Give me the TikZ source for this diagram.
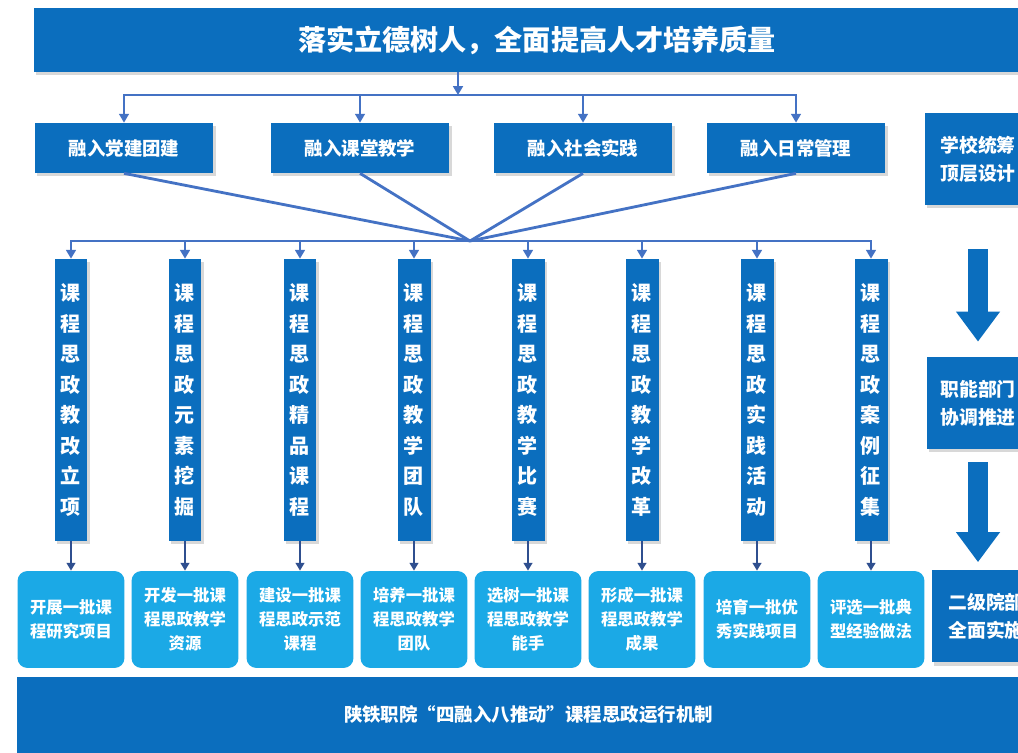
\documentclass[tikz,border=0pt]{standalone}
\usepackage{fontspec}
\setmainfont{Noto Sans CJK SC}
\usetikzlibrary{arrows.meta,shadows}
\definecolor{mainblue}{HTML}{0B6EBE}
\definecolor{skyblue}{HTML}{1BA9E6}
\definecolor{linkblue}{HTML}{4472C4}
\definecolor{navyline}{HTML}{2F4F8F}
\begin{document}
\begin{tikzpicture}[x=0.02cm,y=-0.02cm,
    every node/.style={text=white,font=\bfseries,inner sep=0pt,align=center},
    bluebox/.style={fill=mainblue,drop shadow={opacity=0.3,shadow xshift=1.2pt,shadow yshift=-1.8pt}},
    resbox/.style={fill=skyblue,rounded corners=0.2cm,minimum width=2.14cm,minimum height=1.94cm,font=\bfseries\fontsize{9.3}{13.6}\selectfont},
    link/.style={draw=linkblue,line width=1.6pt},
    linkarrow/.style={link,-{Triangle[width=5.5pt,length=5pt]}},
    downarrow/.style={draw=navyline,line width=1.6pt,-{Triangle[width=5pt,length=4.5pt]}},
    bigarrow/.style={draw=mainblue,line width=0.4cm,-{Triangle[width=0.84cm,length=0.6cm]}}]
    \useasboundingbox (0,0) rectangle (1018,753);
    \fill[white] (0,0) rectangle (1018,753);
    \clip (0,0) rectangle (1018,753);
    % top banner
    \node[bluebox,minimum width=20.12cm,minimum height=1.28cm,font=\bfseries\fontsize{16}{16}\selectfont] (top) at (537,40) {落实立德树人，全面提高人才培养质量};
    % four fusions
    \foreach \i/\x/\txt in {1/124/融入党建团建,2/360/融入课堂教学,3/583/融入社会实践,4/796/融入日常管理}
        \node[bluebox,minimum width=3.58cm,minimum height=1cm,font=\bfseries\fontsize{10.5}{10.5}\selectfont] (m\i) at (\x,148) {\txt};
    % eight pushes and results
    \foreach \i/\x/\mtxt/\rtxt in {1/71/{课\\程\\思\\政\\教\\改\\立\\项}/{开展一批课\\程研究项目},
                                  2/185/{课\\程\\思\\政\\元\\素\\挖\\掘}/{开发一批课\\程思政教学\\资源},
                                  3/300/{课\\程\\思\\政\\精\\品\\课\\程}/{建设一批课\\程思政示范\\课程},
                                  4/414/{课\\程\\思\\政\\教\\学\\团\\队}/{培养一批课\\程思政教学\\团队},
                                  5/528/{课\\程\\思\\政\\教\\学\\比\\赛}/{选树一批课\\程思政教学\\能手},
                                  6/642/{课\\程\\思\\政\\教\\学\\改\\革}/{形成一批课\\程思政教学\\成果},
                                  7/757/{课\\程\\思\\政\\实\\践\\活\\动}/{培育一批优\\秀实践项目},
                                  8/871/{课\\程\\思\\政\\案\\例\\征\\集}/{评选一批典\\型经验做法}}{
        \node[bluebox,minimum width=0.66cm,minimum height=5.64cm,font=\bfseries\fontsize{11.4}{17.4}\selectfont] (k\i) at (\x,400) {\mtxt};
        \node[resbox] (r\i) at (\x,619.5) {\rtxt};
    }
    % right column
    \node[bluebox,minimum width=2.14cm,minimum height=1.84cm,font=\bfseries\fontsize{10.7}{16}\selectfont] (s1) at (978,159) {学校统筹\\顶层设计};
    \node[bluebox,minimum width=2.06cm,minimum height=1.84cm,font=\bfseries\fontsize{10.7}{16}\selectfont] (s2) at (978,403) {职能部门\\协调推进};
    \node[bluebox,minimum width=2.16cm,minimum height=1.86cm,font=\bfseries\fontsize{10.7}{16}\selectfont] (s3) at (986,616) {二级院部\\全面实施};
    % bottom banner
    \node[fill=mainblue,minimum width=20.46cm,minimum height=1.52cm,font=\bfseries\fontsize{10.5}{10.5}\selectfont] (base) at (528.5,715) {陕铁职院“四融入八推动”课程思政运行机制};
    % connectors
    \coordinate (split) at (458,95);
    \coordinate (hub) at (470,241);
    \draw[linkarrow] (top.south -| split) -- (split);
    \draw[link,line cap=rect] (m1.north |- split) -- (m4.north |- split);
    \foreach \i in {1,...,4} \draw[linkarrow] (m\i.north |- split) -- (m\i.north);
    \foreach \i in {1,...,4} \draw[link] (m\i.south) -- (hub);
    \draw[link,line cap=rect] (k1.north |- hub) -- (k8.north |- hub);
    \foreach \i in {1,...,8} \draw[linkarrow] (k\i.north |- hub) -- (k\i.north);
    \foreach \i in {1,...,8} \draw[downarrow] (k\i.south) -- (r\i.north);
    \draw[bigarrow,shorten <=0.88cm,shorten >=0.3cm] (s1.south) -- (s2.north);
    \draw[bigarrow,shorten <=0.26cm,shorten >=0.14cm] (s2.south) -- (s2.south |- s3.north);
\end{tikzpicture}
\end{document}
